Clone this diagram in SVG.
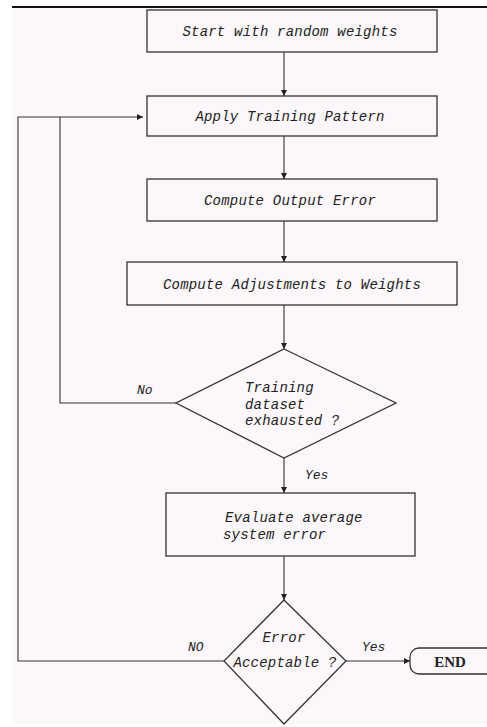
<svg xmlns="http://www.w3.org/2000/svg" width="487" height="727" viewBox="0 0 487 727">
<defs>
<marker id="ah" viewBox="0 0 10 10" refX="10" refY="5" markerWidth="6" markerHeight="6" orient="auto" markerUnits="userSpaceOnUse">
<path d="M0,0 L10,5 L0,10 z" fill="#222"/>
</marker>
<style>
.box{fill:none;stroke:#333;stroke-width:1.3}
.t{font-family:"Liberation Mono","DejaVu Sans Mono",monospace;font-style:italic;font-size:14px;fill:#222;letter-spacing:0.2px}
.c{stroke:#333;stroke-width:1.1;fill:none}
.lbl{font-family:"Liberation Mono","DejaVu Sans Mono",monospace;font-style:italic;font-size:13px;fill:#222}
</style>
</defs>
<rect x="0" y="0" width="487" height="727" fill="#ffffff"/>
<rect x="12" y="8" width="475" height="716" fill="#fbf7fb"/>
<line x1="12" y1="7" x2="487" y2="7" stroke="#111" stroke-width="2"/>

<g id="connectors">
<line class="c" x1="284" y1="52" x2="284" y2="96" marker-end="url(#ah)"/>
<line class="c" x1="284" y1="136" x2="284" y2="179" marker-end="url(#ah)"/>
<line class="c" x1="284" y1="221" x2="284" y2="262" marker-end="url(#ah)"/>
<line class="c" x1="284" y1="305" x2="284" y2="349" marker-end="url(#ah)"/>
<line class="c" x1="284" y1="458" x2="284" y2="493" marker-end="url(#ah)"/>
<line class="c" x1="284" y1="556" x2="284" y2="600" marker-end="url(#ah)"/>
<polyline class="c" points="176,403 60,403 60,117"/>
<polyline class="c" points="224,661 18,661 18,117 143,117" marker-end="url(#ah)" stroke-width="1.6"/>
<line class="c" x1="346" y1="661" x2="410" y2="661" marker-end="url(#ah)"/>
<text class="lbl" x="137" y="394">No</text>
<text class="lbl" x="305" y="479">Yes</text>
<text class="lbl" x="188" y="651">NO</text>
<text class="lbl" x="362" y="651">Yes</text>
</g>

<g id="start">
<rect class="box" x="147" y="10" width="290" height="42"/>
<text class="t" x="290" y="36" text-anchor="middle">Start with random weights</text>
</g>
<g id="apply">
<rect class="box" x="147" y="96" width="290" height="40"/>
<text class="t" x="290" y="121" text-anchor="middle">Apply Training Pattern</text>
</g>
<g id="output-error">
<rect class="box" x="147" y="179" width="290" height="42"/>
<text class="t" x="290" y="205" text-anchor="middle">Compute Output Error</text>
</g>
<g id="adjust">
<rect class="box" x="127" y="262" width="330" height="43"/>
<text class="t" x="292" y="289" text-anchor="middle">Compute Adjustments to Weights</text>
</g>
<g id="exhausted">
<polygon class="box" points="284,349 396,403 284,458 176,403"/>
<text class="t" x="245" y="392">Training</text>
<text class="t" x="245" y="409">dataset</text>
<text class="t" x="245" y="425">exhausted ?</text>
</g>
<g id="evaluate">
<rect class="box" x="166" y="493" width="249" height="63"/>
<text class="t" x="225" y="522">Evaluate average</text>
<text class="t" x="223" y="539">system error</text>
</g>
<g id="acceptable">
<polygon class="box" points="284,600 346,661 284,724 224,661"/>
<text class="t" x="284" y="642" text-anchor="middle">Error</text>
<text class="t" x="285" y="667" text-anchor="middle">Acceptable ?</text>
</g>
<g id="end">
<rect class="box" x="410" y="648" width="90" height="26" rx="9" ry="9"/>
<text x="450" y="667" text-anchor="middle" font-family="Liberation Serif,serif" font-weight="bold" font-size="15" fill="#222">END</text>
</g>
</svg>
